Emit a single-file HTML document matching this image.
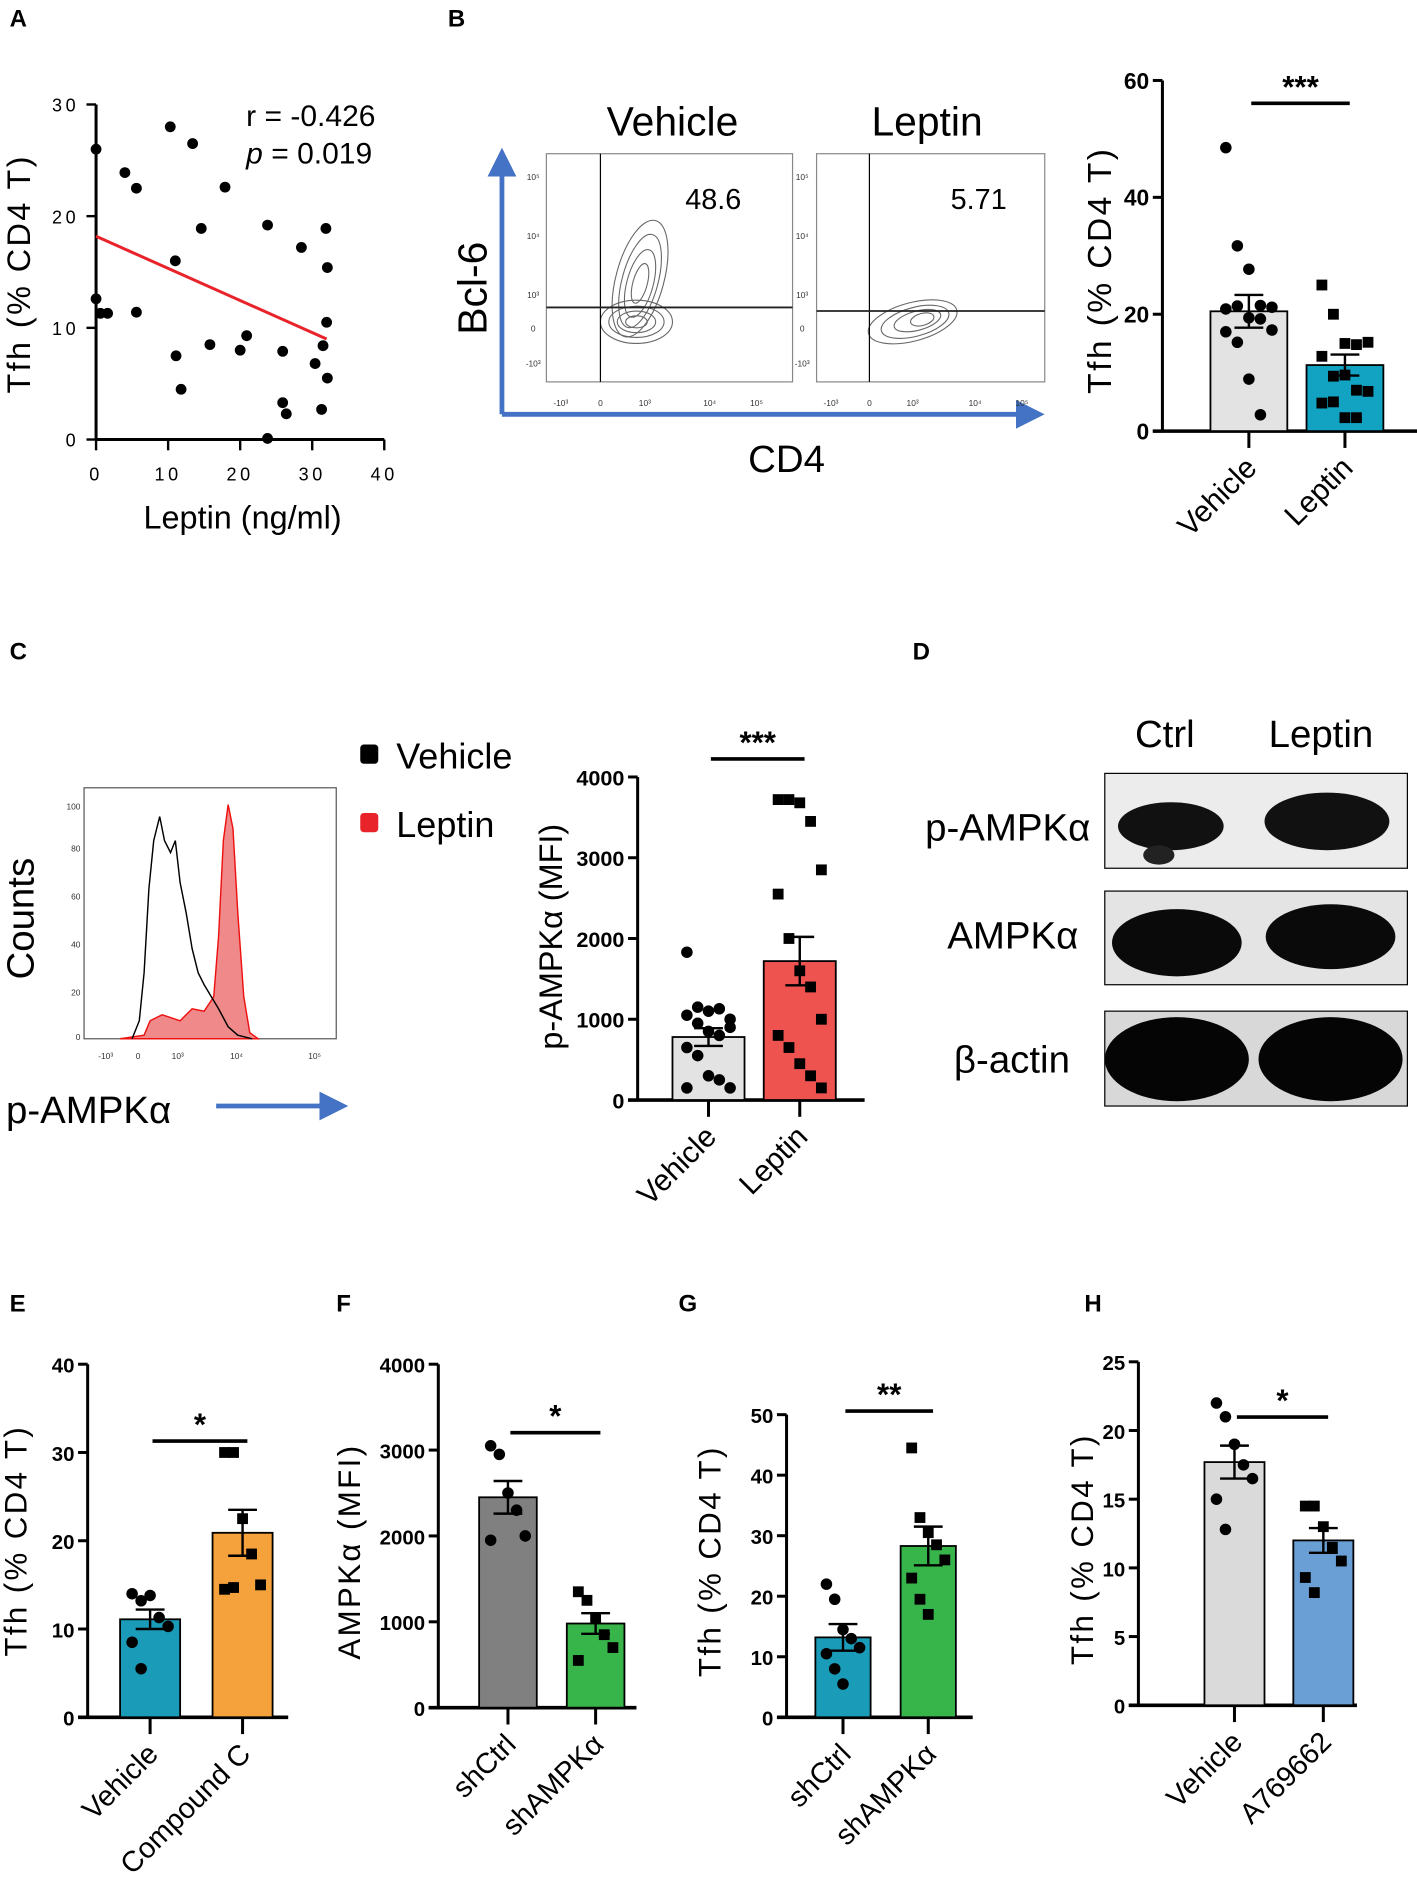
<!DOCTYPE html>
<html><head><meta charset="utf-8"><style>
html,body{margin:0;padding:0;background:#fff;}
svg{display:block;font-family:"Liberation Sans",Arial,sans-serif;}
</style></head><body>
<svg id="fig" width="1417" height="1883" viewBox="0 0 1180 1568" preserveAspectRatio="none" xmlns="http://www.w3.org/2000/svg">
<defs>
<marker id="arr" markerWidth="6" markerHeight="6" refX="3" refY="3" orient="auto"><path d="M0,0 L6,3 L0,6 z" fill="#4472c4"/></marker>
</defs>
<g font-weight="bold" font-size="20">
<text x="8" y="22">A</text>
<text x="373" y="22">B</text>
<text x="8" y="549">C</text>
<text x="760" y="549">D</text>
<text x="8" y="1092">E</text>
<text x="280" y="1092">F</text>
<text x="565" y="1092">G</text>
<text x="903" y="1092">H</text>
</g>

<!-- Panel B flow plots -->
<g>
<line x1="418" y1="345" x2="418" y2="135" stroke="#4472c4" stroke-width="4" marker-end="url(#arr)"/>
<line x1="418" y1="345" x2="858" y2="345" stroke="#4472c4" stroke-width="4" marker-end="url(#arr)"/>
<text x="405" y="240" font-size="34" transform="rotate(-90 405 240)" text-anchor="middle">Bcl-6</text>
<text x="655" y="393" font-size="32" text-anchor="middle">CD4</text>
<text x="560" y="113" font-size="34" text-anchor="middle">Vehicle</text>
<text x="772" y="113" font-size="34" text-anchor="middle">Leptin</text>
<rect x="455" y="128" width="205" height="190" fill="none" stroke="#888" stroke-width="1"/>
<rect x="680" y="128" width="190" height="190" fill="none" stroke="#888" stroke-width="1"/>
<g fill="none" stroke="#666" stroke-width="0.9">
<ellipse cx="533" cy="232" rx="20" ry="50" transform="rotate(15 533 232)"/>
<ellipse cx="533" cy="234" rx="15" ry="40" transform="rotate(15 533 234)"/>
<ellipse cx="533" cy="236" rx="11" ry="29" transform="rotate(15 533 236)"/>
<ellipse cx="533" cy="236" rx="6" ry="17" transform="rotate(15 533 236)"/>
<ellipse cx="530" cy="268" rx="30" ry="18"/>
<ellipse cx="530" cy="268" rx="23" ry="13"/>
<ellipse cx="530" cy="268" rx="16" ry="9"/>
<ellipse cx="530" cy="268" rx="9" ry="5"/>
<ellipse cx="760" cy="268" rx="38" ry="16" transform="rotate(-15 760 268)"/>
<ellipse cx="762" cy="268" rx="29" ry="12" transform="rotate(-15 762 268)"/>
<ellipse cx="764" cy="267" rx="20" ry="8" transform="rotate(-15 764 267)"/>
<ellipse cx="768" cy="266" rx="10" ry="5" transform="rotate(-15 768 266)"/>
</g>
<line x1="500" y1="128" x2="500" y2="318" stroke="#000"/>
<line x1="455" y1="256" x2="660" y2="256" stroke="#222" stroke-width="1.5"/>
<line x1="724" y1="128" x2="724" y2="318" stroke="#000"/>
<line x1="680" y1="259" x2="870" y2="259" stroke="#222" stroke-width="1.5"/>
<text x="594" y="174" font-size="24" text-anchor="middle">48.6</text>
<text x="815" y="174" font-size="24" text-anchor="middle">5.71</text>
<g font-size="7" fill="#333" text-anchor="middle">
<text x="467" y="338">-10³</text><text x="500" y="338">0</text><text x="537" y="338">10³</text><text x="591" y="338">10⁴</text><text x="630" y="338">10⁵</text>
<text x="692" y="338">-10³</text><text x="724" y="338">0</text><text x="760" y="338">10³</text><text x="812" y="338">10⁴</text><text x="851" y="338">10⁵</text>
<text x="444" y="150">10⁵</text><text x="444" y="199">10⁴</text><text x="444" y="248">10³</text><text x="444" y="276">0</text><text x="444" y="305">-10³</text>
<text x="668" y="150">10⁵</text><text x="668" y="199">10⁴</text><text x="668" y="248">10³</text><text x="668" y="276">0</text><text x="668" y="305">-10³</text>
</g>
</g>

<!-- Panel C histogram -->
<g>
<rect x="70" y="656" width="210" height="209" fill="none" stroke="#555" stroke-width="1"/>
<path d="M100,865 L120,862 L125,850 L135,845 L150,850 L160,840 L170,842 L178,830 L182,780 L186,700 L190,670 L194,690 L198,760 L203,830 L208,860 L215,865 Z" fill="#f08a8a" stroke="#e11" stroke-width="1.2"/>
<path d="M110,865 L116,850 L120,810 L124,740 L128,700 L133,680 L137,700 L142,710 L146,700 L150,735 L155,760 L160,790 L165,810 L170,820 L176,830 L182,840 L190,855 L198,862 L210,865" fill="none" stroke="#000" stroke-width="1.2"/>
<g font-size="7" fill="#333" text-anchor="end">
<text x="67" y="674">100</text><text x="67" y="709">80</text><text x="67" y="749">60</text><text x="67" y="789">40</text><text x="67" y="829">20</text><text x="67" y="866">0</text>
</g>
<g font-size="7" fill="#333" text-anchor="middle">
<text x="88" y="882">-10³</text><text x="115" y="882">0</text><text x="148" y="882">10³</text><text x="197" y="882">10⁴</text><text x="262" y="882">10⁵</text>
</g>
<text x="28" y="765" font-size="32" transform="rotate(-90 28 765)" text-anchor="middle">Counts</text>
<text x="5" y="935" font-size="32">p-AMPKα</text>
<line x1="180" y1="921" x2="278" y2="921" stroke="#4472c4" stroke-width="4" marker-end="url(#arr)"/>
<rect x="300" y="620" width="15" height="16" rx="3" fill="#000"/>
<text x="330" y="640" font-size="30">Vehicle</text>
<rect x="300" y="677" width="15" height="16" rx="3" fill="#e8232a"/>
<text x="330" y="697" font-size="30">Leptin</text>
</g>

<!-- Panel D blots -->
<g>
<text x="970" y="622" font-size="32" text-anchor="middle">Ctrl</text>
<text x="1100" y="622" font-size="32" text-anchor="middle">Leptin</text>
<text x="908" y="700" font-size="32" text-anchor="end">p-AMPKα</text>
<text x="898" y="790" font-size="32" text-anchor="end">AMPKα</text>
<text x="891" y="893" font-size="32" text-anchor="end">β-actin</text>
<rect x="920" y="644" width="252" height="79" fill="#ececec" stroke="#000"/>
<ellipse cx="975" cy="688" rx="44" ry="20" fill="#111"/>
<ellipse cx="965" cy="712" rx="13" ry="8" fill="#222"/>
<ellipse cx="1105" cy="684" rx="52" ry="24" fill="#111"/>
<rect x="920" y="742" width="252" height="78" fill="#e4e4e4" stroke="#000"/>
<ellipse cx="980" cy="785" rx="54" ry="28" fill="#0a0a0a"/>
<ellipse cx="1108" cy="780" rx="54" ry="27" fill="#0a0a0a"/>
<rect x="920" y="842" width="252" height="79" fill="#d8d8d8" stroke="#000"/>
<ellipse cx="980" cy="882" rx="60" ry="35" fill="#050505"/>
<ellipse cx="1108" cy="882" rx="60" ry="35" fill="#050505"/>
</g>

<g id="charts"></g>
</svg>
<script>
const NS="http://www.w3.org/2000/svg";
const root=document.getElementById('charts');
function mk(tag,attrs,parent,text){const e=document.createElementNS(NS,tag);for(const k in attrs)e.setAttribute(k,attrs[k]);if(text!==undefined)e.textContent=text;(parent||root).appendChild(e);return e;}

// ---------- Panel A scatter data ----------
const scatterX=[0,0,0.6,1.6,4,5.6,5.6,10.3,11,11.1,11.8,13.4,14.6,15.8,17.9,20,20.9,23.8,23.8,25.9,25.9,26.4,28.5,30.4,31.3,31.5,31.9,32.1,32,32.1];
const scatterY=[26,12.6,11.3,11.3,23.9,22.5,11.4,28,16,7.5,4.5,26.5,18.9,8.5,22.6,8,9.3,0.1,19.2,7.9,3.3,2.3,17.2,6.8,2.7,8.4,18.9,15.4,10.5,5.5];
const fitLineX=[0,32];
const fitLineY=[18.2,9];
const scatterXTicks=[0,10,20,30,40];
const scatterYTicks=[0,10,20,30];

// ---------- Bar chart data ----------
const bCats=["Vehicle","Leptin"];
const bMeans=[20.5,11.3];
const bSems=[2.8,1.8];
const bVehicle=[48.5,31.7,27.7,21.5,21.2,20.9,21.4,19.4,19.2,17.3,17.0,15.2,8.9,2.8];
const bLeptin=[25,20,15,14.8,15.2,12.8,9.4,9.6,7,6.8,4.8,5,2.3,2.3];
const bTicks=[0,20,40,60];

const cCats=["Vehicle","Leptin"];
const cMeans=[780,1720];
const cSems=[110,300];
const cVehicle=[1830,1150,1100,1130,1000,1050,950,850,800,900,650,550,300,250,150,150];
const cLeptin=[3720,3720,3680,3450,2850,2550,2000,1600,1400,1000,800,650,450,300,150];
const cTicks=[0,1000,2000,3000,4000];

const eCats=["Vehicle","Compound C"];
const eMeans=[11.1,20.9];
const eSems=[1.1,2.6];
const eVehicle=[14,13.2,13.8,11.3,10.3,8.5,5.5];
const eCompound=[30,30,22.5,18.5,15,14.5,14.7];
const eTicks=[0,10,20,30,40];

const fCats=["shCtrl","shAMPKα"];
const fMeans=[2450,980];
const fSems=[190,120];
const fShCtrl=[3050,2950,2500,2300,2000,1950];
const fShAMPK=[1350,1250,1050,850,700,550];
const fTicks=[0,1000,2000,3000,4000];

const gCats=["shCtrl","shAMPKα"];
const gMeans=[13.2,28.3];
const gSems=[2.2,3.2];
const gShCtrl=[22,19.5,14.5,13,11.5,10.5,8,5.5];
const gShAMPK=[44.5,33,30.5,28.5,26,23,19.5,17];
const gTicks=[0,10,20,30,40,50];

const hCats=["Vehicle","A769662"];
const hMeans=[17.7,12.0];
const hSems=[1.2,0.9];
const hVehicle=[22,21,19,17.5,16.5,15,12.8];
const hA769662=[14.5,14.5,13,11.5,10.5,9.3,8.2];
const hTicks=[0,5,10,15,20,25];

// ---------- scatter ----------
(function(){
  const g=mk('g',{});
  
  
  const x0=80,x1=320,y0=366,y1=87;
  const sx=v=>x0+(v-0)/(40-0)*(x1-x0);
  const sy=v=>y0-(v-0)/(30-0)*(y0-y1);
  mk('line',{x1:x0,y1:y0,x2:x1,y2:y0,stroke:'#000','stroke-width':2.5},g);
  mk('line',{x1:x0,y1:y0,x2:x0,y2:y1,stroke:'#000','stroke-width':2.5},g);
  scatterXTicks.forEach(t=>{mk('line',{x1:sx(t),y1:y0,x2:sx(t),y2:y0+9,stroke:'#000','stroke-width':2},g);
    const tx=mk('text',{x:sx(t),y:y0+34,'font-size':15,'text-anchor':'middle','letter-spacing':'3'},g,String(t));
    
    });
  scatterYTicks.forEach(t=>{mk('line',{x1:x0-8,y1:sy(t),x2:x0,y2:sy(t),stroke:'#000','stroke-width':2},g);
    const tx=mk('text',{x:x0-14,y:sy(t)+6,'font-size':15,'text-anchor':'end','letter-spacing':'3'},g,String(t));
    
    });
  scatterX.forEach((v,i)=>{const c=mk('circle',{cx:sx(v),cy:sy(scatterY[i]),r:4.5,fill:'#000'},g);
    
    });
  const ln=mk('line',{x1:sx(fitLineX[0]),y1:sy(fitLineY[0]),x2:sx(fitLineX[1]),y2:sy(fitLineY[1]),stroke:'#e8232a','stroke-width':2.5},g);
  
  
  const r=mk('text',{x:205,y:105,'font-size':25},g,'r = -0.426');
  
  
  const p=mk('text',{x:205,y:136,'font-size':25},g);
  
  
  mk('tspan',{'font-style':'italic'},p,'p');mk('tspan',{},p,' = 0.019');
  const yt=mk('text',{x:25,y:228,'font-size':27,'text-anchor':'middle',transform:'rotate(-90 25 228)','letter-spacing':'2'},g,'Tfh (% CD4 T)');
  
  
  const xt=mk('text',{x:202,y:440,'font-size':27,'text-anchor':'middle'},g,'Leptin (ng/ml)');
  
  
})();

// ---------- generic bar chart ----------
function barChart(o){
  const g=mk('g',{});
  
  
  const sy=v=>o.y0-(v-o.ticks[0])/(o.ticks[o.ticks.length-1]-o.ticks[0])*(o.y0-o.y1);
  mk('line',{x1:o.ax,y1:o.y0,x2:o.ax,y2:o.y1,stroke:'#000','stroke-width':2.5},g);
  mk('line',{x1:o.ax-8,y1:o.y0,x2:o.xend,y2:o.y0,stroke:'#000','stroke-width':3},g);
  o.ticks.forEach(t=>{mk('line',{x1:o.ax-8,y1:sy(t),x2:o.ax,y2:sy(t),stroke:'#000','stroke-width':2.5},g);
    const tx=mk('text',{x:o.ax-11,y:sy(t)+7,'font-size':o.tfs||19,'font-weight':'bold','text-anchor':'end'},g,String(t));
    
    });
  o.cats.forEach((c,i)=>{
    const cx=o.cx[i],w=o.bw;
    const b=mk('rect',{x:cx-w/2,y:sy(o.means[i]),width:w,height:o.y0-sy(o.means[i]),fill:o.colors[i],stroke:'#000','stroke-width':1.5},g);
    
    
    mk('line',{x1:cx,y1:o.y0,x2:cx,y2:o.y0+14,stroke:'#000','stroke-width':2.5},g);
    const pts=o.points[i];
    pts.forEach((v,j)=>{
      const off=((j%5)-2)*w*0.15;
      const px=cx+off,py=sy(v);
      let m;
      if(i===0) m=mk('circle',{cx:px,cy:py,r:4.8,fill:'#000'},g);
      else m=mk('rect',{x:px-4.5,y:py-4.5,width:9,height:9,fill:'#000'},g);
      
      
    });
    const hi=sy(o.means[i]+o.sems[i]),lo=sy(o.means[i]-o.sems[i]);
    const eb=mk('path',{d:`M${cx},${hi}V${lo}M${cx-12},${hi}H${cx+12}M${cx-12},${lo}H${cx+12}`,stroke:'#000','stroke-width':2,fill:'none'},g);
    
    
    const lx=cx+8,ly=o.y0+32;
    const lt=mk('text',{x:lx,y:ly,'font-size':o.lfs||25,'text-anchor':'end',transform:`rotate(-45 ${lx} ${ly})`},g,c);
    
    
  });
  const sig=mk('line',{x1:o.cx[0]+2,y1:o.sigY,x2:o.cx[1]+4,y2:o.sigY,stroke:'#000','stroke-width':3},g);
  
  
  const st=mk('text',{x:(o.cx[0]+o.cx[1])/2+3,y:o.sigY-5,'font-size':26,'font-weight':'bold','text-anchor':'middle'},g,o.stars);
  
  
  const yt=mk('text',{x:o.tx,y:o.ty,'font-size':o.yfs||27,'text-anchor':'middle',transform:`rotate(-90 ${o.tx} ${o.ty})`,'letter-spacing':o.ls||'0'},g,o.ytitle);
  
  
}

barChart({name:'bar-chart-b',ax:968,y0:359,y1:67,xend:1180,ticks:bTicks,cats:bCats,means:bMeans,sems:bSems,points:[bVehicle,bLeptin],cx:[1040,1120],bw:64,colors:['#e2e3e2','#12a3c2'],sigY:86,stars:'***',tx:925,ty:225,ytitle:'Tfh (% CD4 T)',ls:'2',yfs:28});
barChart({name:'bar-chart-c',ax:531,y0:916,y1:647,xend:720,ticks:cTicks,cats:cCats,means:cMeans,sems:cSems,points:[cVehicle,cLeptin],cx:[590,666],bw:60,colors:['#e2e3e2','#ef5350'],sigY:632,stars:'***',tx:468,ty:780,ytitle:'p-AMPKα (MFI)',yfs:27,tfs:18});
barChart({name:'bar-chart-e',ax:73,y0:1430,y1:1136,xend:240,ticks:eTicks,cats:eCats,means:eMeans,sems:eSems,points:[eVehicle,eCompound],cx:[125,202],bw:50,colors:['#1a9bb8','#f5a13c'],sigY:1200,stars:'*',tx:22,ty:1283,ytitle:'Tfh (% CD4 T)',ls:'2',yfs:26,tfs:17,lfs:24});
barChart({name:'bar-chart-f',ax:365,y0:1422,y1:1136,xend:530,ticks:fTicks,cats:fCats,means:fMeans,sems:fSems,points:[fShCtrl,fShAMPK],cx:[423,496],bw:48,colors:['#7f807f','#37b54a'],sigY:1193,stars:'*',tx:300,ty:1292,ytitle:'AMPKα (MFI)',ls:'2',yfs:26,tfs:17,lfs:24});
barChart({name:'bar-chart-g',ax:655,y0:1430,y1:1178,xend:810,ticks:gTicks,cats:gCats,means:gMeans,sems:gSems,points:[gShCtrl,gShAMPK],cx:[702,773],bw:46,colors:['#1a9bb8','#37b54a'],sigY:1175,stars:'**',tx:600,ty:1300,ytitle:'Tfh (% CD4 T)',ls:'2',yfs:26,tfs:17,lfs:24});
barChart({name:'bar-chart-h',ax:948,y0:1420,y1:1134,xend:1130,ticks:hTicks,cats:hCats,means:hMeans,sems:hSems,points:[hVehicle,hA769662],cx:[1028,1102],bw:50,colors:['#d9dad9','#6a9fd6'],sigY:1180,stars:'*',tx:910,ty:1290,ytitle:'Tfh (% CD4 T)',ls:'2',yfs:26,tfs:17,lfs:24});
</script>
</body></html>
